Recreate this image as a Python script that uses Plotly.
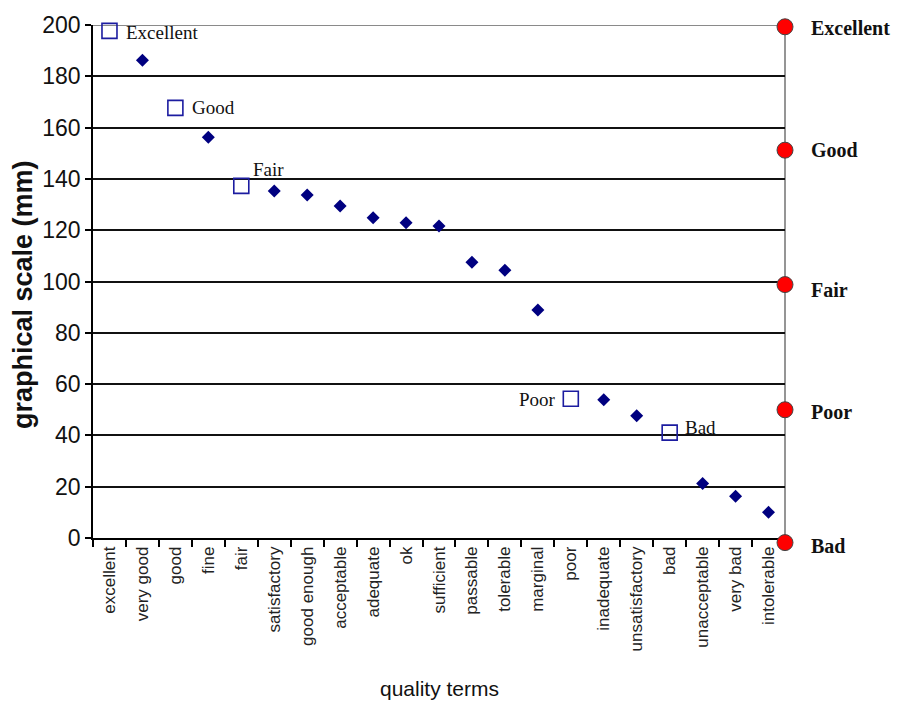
import plotly.graph_objects as go

categories = ["excellent", "very good", "good", "fine", "fair", "satisfactory",
              "good enough", "acceptable", "adequate", "ok", "sufficient",
              "passable", "tolerable", "marginal", "poor", "inadequate",
              "unsatisfactory", "bad", "unacceptable", "very bad", "intolerable"]

diamond_terms = ["very good", "fine", "satisfactory", "good enough", "acceptable",
                 "adequate", "ok", "sufficient", "passable", "tolerable", "marginal",
                 "inadequate", "unsatisfactory", "unacceptable", "very bad", "intolerable"]
diamond_values = [186.3, 156.2, 135.3, 133.7, 129.4, 124.9, 122.9, 121.6,
                  107.5, 104.4, 88.9, 53.9, 47.7, 21.2, 16.3, 10.0]

anchor_terms = ["excellent", "good", "fair", "poor", "bad"]
anchor_values = [197.7, 167.7, 137.3, 54.3, 41.1]
anchor_labels = ["Excellent", "Good", "Fair", "Poor", "Bad"]

scale_labels = ["Excellent", "Good", "Fair", "Poor", "Bad"]
scale_values = [199.3, 151.2, 98.8, 50.0, -1.8]

y_ticks = [0, 20, 40, 60, 80, 100, 120, 140, 160, 180, 200]

# layout geometry (pixels)
W, H = 893, 693
ML, MT = 85, 17
PLOT_W, PLOT_H = 692, 513
EXTRA = 10  # extra pixels below the main axis for the right-hand scale
MB = H - MT - PLOT_H - EXTRA
MR = W - ML - PLOT_W
TOTAL_H = PLOT_H + EXTRA
y2_low = -EXTRA * 200.0 / PLOT_H

fig = go.Figure()

fig.add_trace(go.Scatter(
    x=diamond_terms, y=diamond_values, mode="markers",
    marker=dict(symbol="diamond", size=10, color="#000080"),
    showlegend=False, hoverinfo="skip"))

fig.add_trace(go.Scatter(
    x=anchor_terms, y=anchor_values, mode="markers", cliponaxis=False,
    marker=dict(symbol="square-open", size=15, color="#1c1ca0",
                line=dict(width=1.6, color="#1c1ca0")),
    showlegend=False, hoverinfo="skip"))

fig.add_trace(go.Scatter(
    x=[1] * len(scale_values), y=scale_values, mode="markers",
    xaxis="x2", yaxis="y2", cliponaxis=False,
    marker=dict(symbol="circle", size=16, color="#ff0000",
                line=dict(width=1, color="#444444")),
    showlegend=False, hoverinfo="skip"))

# anchor labels next to the open squares
offsets = {
    "Excellent": (15, -2, "left"),
    "Good": (15, 0, "left"),
    "Fair": (10, 16, "left"),
    "Poor": (-13, -1, "right"),
    "Bad": (13, 5, "left"),
}
serif = "Liberation Serif, Times New Roman, serif"
for term, val, lab in zip(anchor_terms, anchor_values, anchor_labels):
    dx, dy, anc = offsets[lab]
    fig.add_annotation(x=term, y=val, xref="x", yref="y", text=lab,
                       showarrow=False, xanchor=anc, yanchor="middle",
                       xshift=dx, yshift=dy,
                       font=dict(family=serif, size=19, color="#111111"))

# right-hand scale labels
scale_shift = {"Excellent": -1, "Good": 0, "Fair": -5, "Poor": -2, "Bad": -3}
for lab, val in zip(scale_labels, scale_values):
    fig.add_annotation(x=1, y=val, xref="paper", yref="y2", text="<b>%s</b>" % lab,
                       showarrow=False, xanchor="left", yanchor="middle",
                       xshift=24, yshift=scale_shift[lab],
                       font=dict(family=serif, size=20, color="#111111"))

# axis titles (positions in paper units of the full plotting area)
fig.add_annotation(x=0.5, y=-(680 - (MT + TOTAL_H)) / TOTAL_H, xref="paper", yref="paper",
                   text="quality terms", showarrow=False,
                   xanchor="center", yanchor="middle",
                   font=dict(family="Liberation Sans, Arial, sans-serif", size=21,
                             color="#111111"))
fig.add_annotation(x=(15 - ML) / PLOT_W, y=((MT + TOTAL_H) - 287) / TOTAL_H,
                   xref="paper", yref="paper",
                   text="<b>graphical scale (mm)</b>", showarrow=False, textangle=-90,
                   xanchor="center", yanchor="middle",
                   font=dict(family="Liberation Sans, Arial, sans-serif", size=27,
                             color="#111111"))

# plot border top and right (grey), between gridlines and traces
fig.add_shape(type="line", xref="paper", yref="y", x0=0, x1=1, y0=200, y1=200,
              line=dict(color="#8a8a8a", width=1.8), layer="between")
fig.add_shape(type="line", xref="paper", yref="y", x0=1, x1=1, y0=0, y1=200,
              line=dict(color="#8a8a8a", width=1.8), layer="between")

fig.update_layout(
    width=W, height=H,
    margin=dict(l=ML, r=MR, t=MT, b=MB),
    plot_bgcolor="rgba(0,0,0,0)", paper_bgcolor="white",
    xaxis=dict(type="category", categoryorder="array", categoryarray=categories,
               range=[-0.5, len(categories) - 0.5], anchor="y",
               automargin=False,
               showgrid=False, zeroline=False,
               showline=True, linecolor="#000000", linewidth=1.6,
               ticks="outside", tickson="boundaries", ticklen=7,
               tickcolor="#000000", tickwidth=1.6,
               tickangle=-90,
               tickfont=dict(family="Liberation Sans, Arial, sans-serif", size=17,
                             color="#222222")),
    xaxis2=dict(overlaying="x", range=[0, 1], visible=False, anchor="y2"),
    yaxis=dict(range=[0, 200], tickvals=y_ticks, domain=[EXTRA / TOTAL_H, 1],
               automargin=False,
               showgrid=True, gridcolor="#111111", gridwidth=1.6,
               zeroline=False,
               showline=True, linecolor="#000000", linewidth=1.6,
               ticks="outside", ticklen=6, tickcolor="#000000", tickwidth=1.6,
               tickfont=dict(family="Liberation Sans, Arial, sans-serif", size=23,
                             color="#111111")),
    yaxis2=dict(range=[y2_low, 200], domain=[0, 1], visible=False,
                anchor="x2", automargin=False),
)

fig.write_html("out.html")
